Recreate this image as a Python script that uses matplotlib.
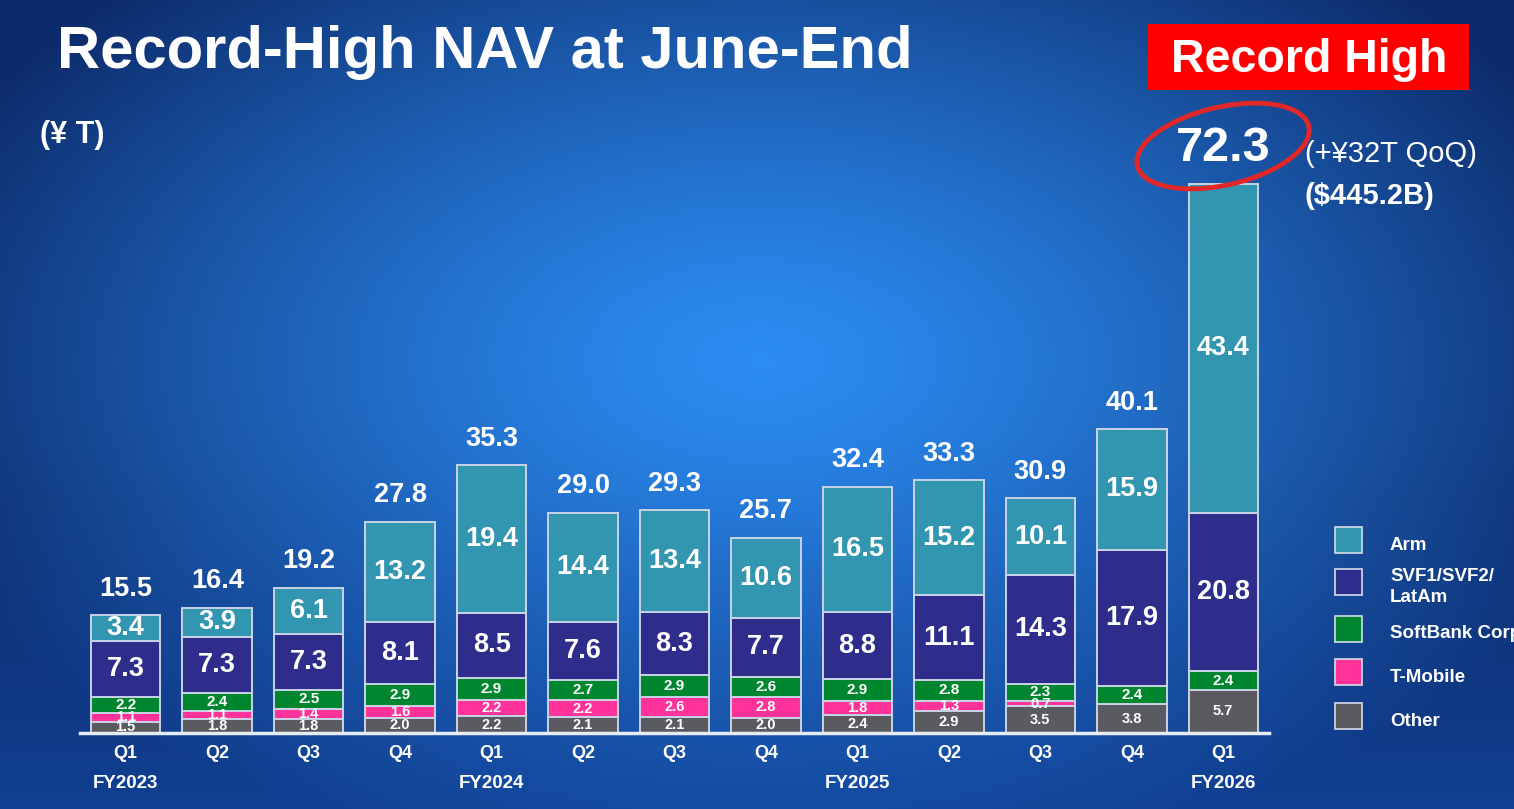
import numpy as np
import matplotlib
matplotlib.use("Agg")
import matplotlib.pyplot as plt
from matplotlib.patches import Ellipse, Rectangle

plt.rcParams['font.family'] = ['Liberation Sans', 'DejaVu Sans']

# ---- data ----
quarters = ["Q1", "Q2", "Q3", "Q4", "Q1", "Q2", "Q3", "Q4", "Q1", "Q2", "Q3", "Q4", "Q1"]
fiscal_years = ["FY2023", "", "", "", "FY2024", "", "", "", "FY2025", "", "", "", "FY2026"]
other    = [1.5, 1.8, 1.8, 2.0, 2.2, 2.1, 2.1, 2.0, 2.4, 2.9, 3.5, 3.8, 5.7]
tmobile  = [1.1, 1.1, 1.4, 1.6, 2.2, 2.2, 2.6, 2.8, 1.8, 1.3, 0.7, 0.0, 0.0]
sbcorp   = [2.2, 2.4, 2.5, 2.9, 2.9, 2.7, 2.9, 2.6, 2.9, 2.8, 2.3, 2.4, 2.4]
svf      = [7.3, 7.3, 7.3, 8.1, 8.5, 7.6, 8.3, 7.7, 8.8, 11.1, 14.3, 17.9, 20.8]
arm      = [3.4, 3.9, 6.1, 13.2, 19.4, 14.4, 13.4, 10.6, 16.5, 15.2, 10.1, 15.9, 43.4]
totals   = [15.5, 16.4, 19.2, 27.8, 35.3, 29.0, 29.3, 25.7, 32.4, 33.3, 30.9, 40.1, 72.3]
series_names = ["Other", "T-Mobile", "SoftBank Corp.", "SVF1/SVF2/\nLatAm", "Arm"]
series_vals = [other, tmobile, sbcorp, svf, arm]
series_colors = ["#595B60", "#FF3399", "#00862E", "#2E2D8C", "#3296B0"]
label_sizes = [10.5, 10.5, 11, 19.5, 19.5]

W, H = 1514, 809
fig = plt.figure(figsize=(W / 100, H / 100), dpi=100)

# ---- background gradient ----
bg = fig.add_axes([0, 0, 1, 1])
yy, xx = np.mgrid[0:H, 0:W]
cx, cy = 760, 360
r = np.sqrt(((xx - cx) / 900.0) ** 2 + ((yy - cy) / 520.0) ** 2)
t = np.clip(r, 0, 1) ** 1.3
bright = np.array([0.17, 0.55, 0.95])
dark = np.array([0.05, 0.17, 0.42])
img = bright[None, None, :] * (1 - t[..., None]) + dark[None, None, :] * t[..., None]
bottom = np.clip((yy - 500) / 309.0, 0, 1)[..., None]
img = img * (1 - 0.35 * bottom) + np.array([0.10, 0.40, 0.86]) * 0.35 * bottom
bg.imshow(np.clip(img, 0, 1), extent=[0, W, H, 0], aspect='auto', zorder=0)
bg.set_xlim(0, W)
bg.set_ylim(H, 0)
bg.axis('off')

# ---- main axes ----
x0_px, x1_px = 80, 1269
base_px = 733
ppu = 7.6
ymax = base_px / ppu
ax = fig.add_axes([x0_px / W, (H - base_px) / H, (x1_px - x0_px) / W, base_px / H])
ax.set_facecolor('none')
ax.set_xlim(-0.5, len(quarters) - 0.5)
ax.set_ylim(0, ymax)
for s in ax.spines.values():
    s.set_visible(False)
ax.set_xticks([])
ax.set_yticks([])

x = np.arange(len(quarters))
bottoms = np.zeros(len(quarters))
for vals, col, fs in zip(series_vals, series_colors, label_sizes):
    vals = np.array(vals)
    ax.bar(x, vals, width=0.76, bottom=bottoms, color=col,
           edgecolor="#C9D3E6", linewidth=1.4, zorder=3)
    for xi, b, v in zip(x, bottoms, vals):
        if v <= 0:
            continue
        ax.text(xi, b + v / 2, f"{v:.1f}", ha='center', va='center',
                color='white', fontweight='bold', fontsize=fs, zorder=5)
    bottoms = bottoms + vals

# totals
for xi, tot, top in zip(x, totals, bottoms):
    if xi == len(x) - 1:
        ax.annotate(f"{tot:.1f}", (xi, top), xytext=(0, 25), textcoords='offset points',
                    ha='center', va='center', color='white', fontweight='bold', fontsize=35, zorder=6)
    else:
        ax.annotate(f"{tot:.1f}", (xi, top), xytext=(0, 19), textcoords='offset points',
                    ha='center', va='center', color='white', fontweight='bold', fontsize=19.5, zorder=6)

# baseline
ax.axhline(0, color='#E6ECF5', linewidth=2.5, zorder=4, clip_on=False)

# x labels
for xi, q, fy in zip(x, quarters, fiscal_years):
    ax.annotate(q, (xi, 0), xytext=(0, -15), textcoords='offset points', ha='center', va='center',
                color='white', fontweight='bold', fontsize=13, annotation_clip=False)
    if fy:
        ax.annotate(fy, (xi, 0), xytext=(0, -36), textcoords='offset points', ha='center', va='center',
                    color='white', fontweight='bold', fontsize=13.5, annotation_clip=False)

# ---- overlay decorations (pixel coordinates) ----
ov = fig.add_axes([0, 0, 1, 1], facecolor='none')
ov.set_xlim(0, W)
ov.set_ylim(H, 0)
ov.axis('off')

ov.text(57, 52, "Record-High NAV at June-End", color='white', fontweight='bold',
        fontsize=43, ha='left', va='center')
ov.text(40, 135, "(¥ T)", color='white', fontweight='bold', fontsize=22, ha='left', va='center')

ov.add_patch(Rectangle((1148, 24), 321, 66, facecolor='#FF0000', edgecolor='none'))
ov.text(1309, 60, "Record High", color='white', fontweight='bold', fontsize=33.5,
        ha='center', va='center')

ov.add_patch(Ellipse((1223, 146), 176, 78, angle=-13, fill=False,
                     edgecolor='#E02828', linewidth=3.5, zorder=7))
ov.text(1305, 154, "(+¥32T QoQ)", color='white', fontsize=21, ha='left', va='center')
ov.text(1305, 196, "($445.2B)", color='white', fontweight='bold', fontsize=21, ha='left', va='center')

# legend (reverse stacking order)
leg_y = [540, 582, 629, 672, 716]
for yl, name, col in zip(leg_y, series_names[::-1], series_colors[::-1]):
    ov.add_patch(Rectangle((1335, yl - 13), 27, 26, facecolor=col, edgecolor='#D5DDEB', linewidth=1.2))
    ov.text(1390, yl + 5, name, color='white', fontweight='bold', fontsize=13.5,
            ha='left', va='center', linespacing=1.3)

fig.savefig("out.png", dpi=100)
